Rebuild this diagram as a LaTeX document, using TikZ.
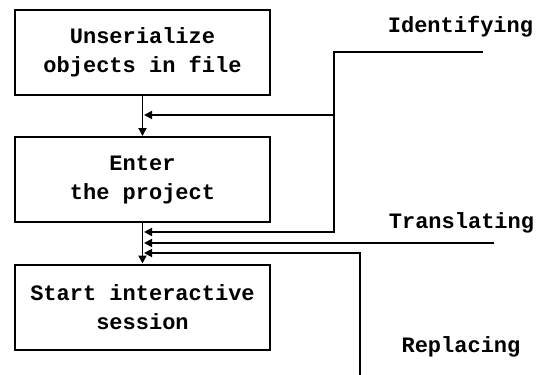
\documentclass[tikz,border=0pt]{standalone}
\usepackage{fontspec}
\setmainfont{Liberation Mono}
\usetikzlibrary{arrows.meta}
\begin{document}
\begin{tikzpicture}[x=1pt,y=-1pt,
  box/.style={draw, line width=2pt, minimum width=255pt, minimum height=85pt,
    align=center, inner sep=0pt, font=\bfseries\fontsize{22}{29}\selectfont},
  lbl/.style={anchor=base, inner sep=0pt, font=\bfseries\fontsize{22}{29}\selectfont},
  conn/.style={line width=1.8pt},
  arr/.style={conn, -{Triangle[length=8pt,width=8pt]}}]
\useasboundingbox[fill=white] (0,0) rectangle (539,375);
\node[box] (b1) at (142.5,52.5) {Unserialize\\objects in file};
\node[box] (b2) at (142.5,179.5) {Enter\\the project};
\node[box] (b3) at (142.5,307) {Start interactive\\session};
\node[lbl] (lid) at (460.5,32) {Identifying};
\node[lbl] (ltr) at (461.5,228) {Translating};
\node[lbl] (lre) at (461,352) {Replacing};
% main flow
\draw[arr] (b1.south) -- (b2.north);
\draw[arr] (b2.south) -- (b3.north);
% identifying
\coordinate (i0) at (483,52);
\coordinate (i1) at (334,52);
\coordinate (i2) at (334,115);
\coordinate (i3) at (334,232);
\coordinate (t1) at (144,115);
\coordinate (t2) at (144,232);
\draw[arr] (i0) -- (i1) -- (i3) -- (t2);
\draw[arr] (i2) -- (t1);
% translating
\coordinate (r0) at (494,243);
\coordinate (t3) at (144,243);
\draw[arr] (r0) -- (t3);
% replacing
\coordinate (p0) at (360,376);
\coordinate (p1) at (360,253);
\coordinate (t4) at (144,253);
\draw[arr] (p0) -- (p1) -- (t4);
\end{tikzpicture}
\end{document}
